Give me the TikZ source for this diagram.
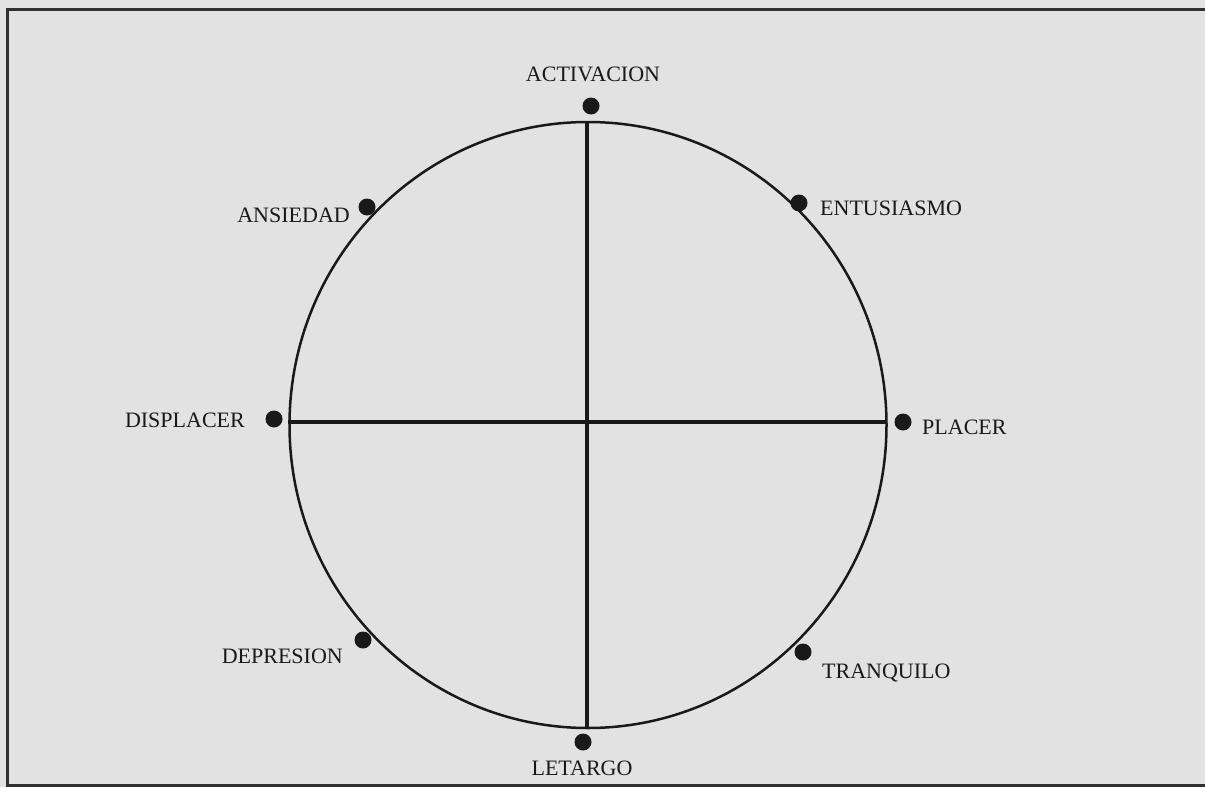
\documentclass[tikz,border=0pt]{standalone}
\usepackage{fontspec}
\setmainfont{Liberation Serif}
\usetikzlibrary{shapes.geometric}
\definecolor{paper}{RGB}{226,226,226}
\definecolor{ink}{RGB}{25,25,25}
\tikzset{
  mooddot/.style={circle, fill=ink, inner sep=0pt, minimum size=17pt},
  mood/.style={font=\fontsize{22}{26}\selectfont, inner sep=0pt, text=ink},
  axis/.style={line width=4pt, draw=ink},
}
\begin{document}
\begin{tikzpicture}[x=1pt,y=-1pt]
\fill[paper] (0,0) rectangle (1205,787);
\useasboundingbox (0,0) rectangle (1205,787);
\draw[line width=3pt, ink!90] (1205,9) -- (7,9) -- (7,785) -- (1205,785);

% circumplex
\node[ellipse, draw=ink, line width=2.5pt, minimum width=597pt, minimum height=606pt, inner sep=0pt, outer sep=0pt] (wheel) at (588,425) {};
\coordinate (top) at (587,122);
\coordinate (bot) at (587,728);
\coordinate (lft) at (288,422);
\coordinate (rgt) at (887,422);
\draw[axis] (top) -- (bot);
\draw[axis] (lft) -- (rgt);

% points on the circle
\node[mooddot] (act) at (591,106) {};
\node[mooddot] (ent) at (799,203) {};
\node[mooddot] (pla) at (903,422) {};
\node[mooddot] (tra) at (803,652) {};
\node[mooddot] (let) at (583,742) {};
\node[mooddot] (dep) at (363,640) {};
\node[mooddot] (dis) at (274,419) {};
\node[mooddot] (ans) at (367,207) {};

% labels
\node[mood, anchor=base] (actL) at (593,81) {ACTIVACION};
\node[mood, anchor=base west] (entL) at (820,215) {ENTUSIASMO};
\node[mood, anchor=base west] (plaL) at (922,434) {PLACER};
\node[mood, anchor=base west] (traL) at (822,678) {TRANQUILO};
\node[mood, anchor=base] (letL) at (582,775) {LETARGO};
\node[mood, anchor=base east] (depL) at (343,663) {DEPRESION};
\node[mood, anchor=base east] (disL) at (245,427) {DISPLACER};
\node[mood, anchor=base east] (ansL) at (350,222) {ANSIEDAD};
\end{tikzpicture}
\end{document}
